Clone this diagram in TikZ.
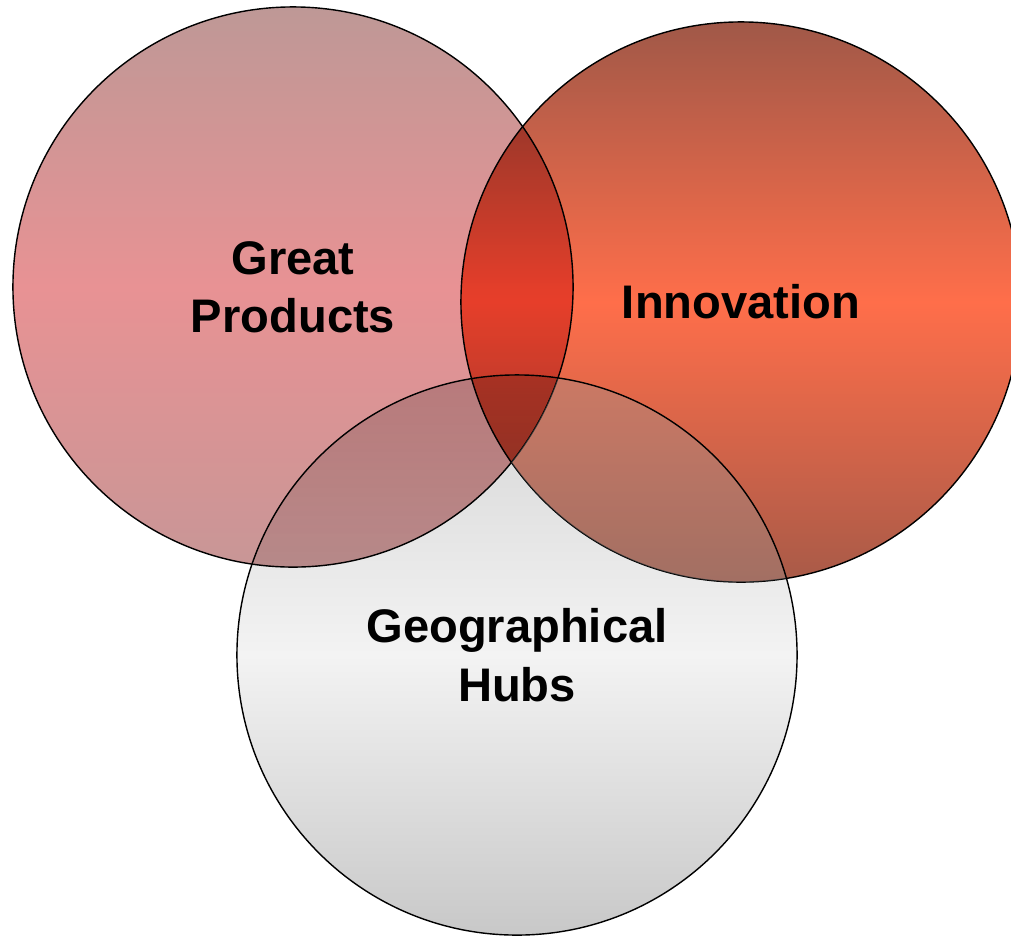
\documentclass[tikz,border=0pt]{standalone}
\usepackage{fontspec}
\setmainfont{Liberation Sans}
\usepackage{tikz}
\definecolor{prodtop}{RGB}{190,152,150}
\definecolor{prodmid}{RGB}{232,146,148}
\definecolor{prodbot}{RGB}{200,150,150}
\definecolor{innotop}{RGB}{160,88,72}
\definecolor{innomid}{RGB}{255,110,74}
\definecolor{innobot}{RGB}{168,90,72}
\definecolor{hubtop}{RGB}{212,212,212}
\definecolor{hubmid}{RGB}{243,243,243}
\definecolor{hubbot}{RGB}{200,200,200}
\definecolor{hubveil}{RGB}{152,152,152}

\begin{document}
\begin{tikzpicture}[x=0.025cm,y=-0.025cm,
	venn/.style={circle,draw=black,line width=1pt,minimum size=14cm,inner sep=0pt,
		align=center,font=\fontsize{33.5}{41.5}\selectfont\bfseries,blend mode=multiply},
	prodfill/.style={top color=prodtop,bottom color=prodbot,middle color=prodmid},
	innofill/.style={top color=innotop,bottom color=innobot,middle color=innomid},
	hubfill/.style={top color=hubtop,bottom color=hubbot,middle color=hubmid,blend mode=multiply}]
		\useasboundingbox (0,0) rectangle (1011,936);
		\node[venn,prodfill] (products) at (293,287) {Great\\Products};
		\node[venn,innofill] (innovation) at (741,302) {Innovation};
		\coordinate (hubc) at (517,655);
		% hubs over white and over products
		\begin{scope}[even odd rule]
			\clip (-50,-50) rectangle (1100,1000) (innovation.center) circle[radius=280];
			\path[hubfill] (hubc) circle[radius=280];
		\end{scope}
		\begin{scope}
			\clip (products.center) circle[radius=280];
			\clip (innovation.center) circle[radius=280];
			\path[hubfill] (hubc) circle[radius=280];
		\end{scope}
		% hubs over innovation alone
		\begin{scope}[even odd rule]
			\clip (innovation.center) circle[radius=280];
			\clip (-50,-50) rectangle (1100,1000) (products.center) circle[radius=280];
			\fill[hubveil,fill opacity=0.35] (hubc) circle[radius=280];
		\end{scope}
		\node[venn] (hubs) at (hubc) {Geographical\\Hubs};
\end{tikzpicture}
\end{document}
